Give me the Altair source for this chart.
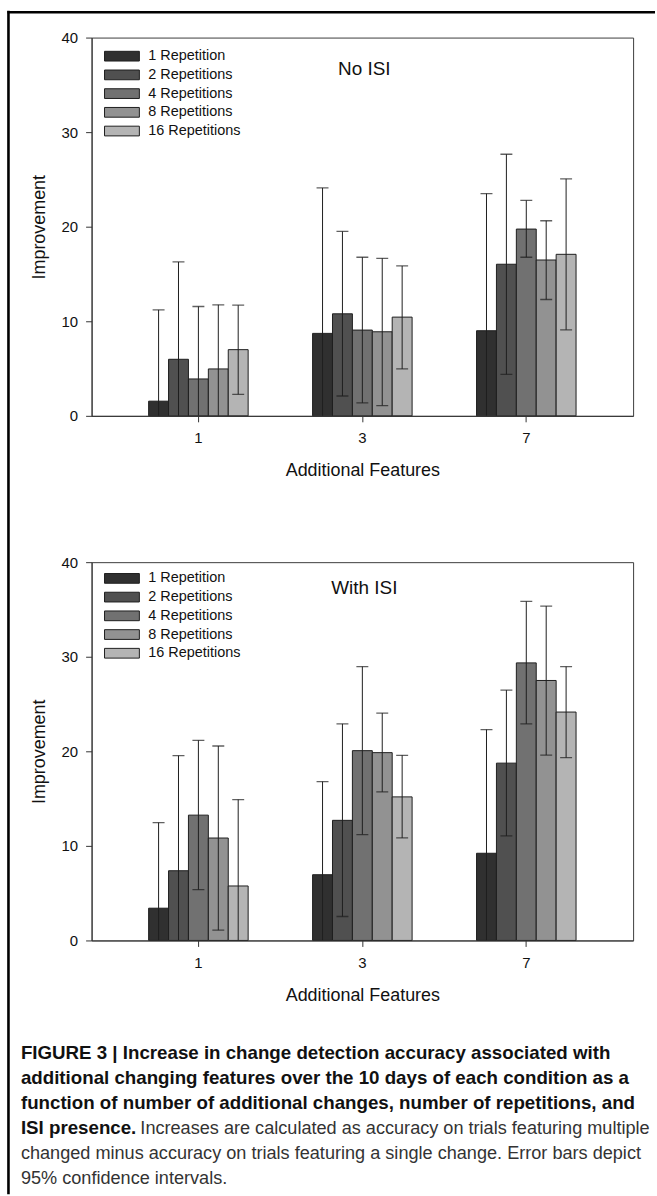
import altair as alt
import pandas as pd

FONT = "Liberation Sans"

features = ["1", "3", "7"]
reps = ["1 Repetition", "2 Repetitions", "4 Repetitions", "8 Repetitions", "16 Repetitions"]
rep_colors = ["#303030", "#505050", "#717171", "#929292", "#b4b4b4"]

# rows: additional features 1, 3, 7 ; columns: repetitions 1, 2, 4, 8, 16
noisi_mean = [[1.55, 5.98, 3.90, 4.96, 7.00],
              [8.72, 10.79, 9.07, 8.89, 10.44],
              [9.00, 16.03, 19.75, 16.48, 17.08]]
noisi_upper = [[11.2, 16.27, 11.56, 11.74, 11.70],
               [24.1, 19.50, 16.77, 16.66, 15.85],
               [23.5, 27.66, 22.78, 20.63, 25.06]]
noisi_lower = [[-8.1, -4.3, -3.8, -1.8, 2.28],
               [-6.7, 2.10, 1.37, 1.09, 4.96],
               [-5.5, 4.39, 16.77, 12.30, 9.10]]

isi_mean = [[3.41, 7.37, 13.25, 10.83, 5.76],
            [6.95, 12.70, 20.07, 19.86, 15.18],
            [9.22, 18.75, 29.35, 27.49, 24.15]]
isi_upper = [[12.46, 19.54, 21.16, 20.56, 14.90],
             [16.80, 22.90, 28.96, 24.04, 19.58],
             [22.30, 26.47, 35.85, 35.36, 28.96]]
isi_lower = [[-5.6, -4.8, 5.37, 1.09, -3.4],
             [-2.9, 2.53, 11.20, 15.71, 10.84],
             [-3.9, 11.05, 22.90, 19.60, 19.33]]

panel_titles = ["No ISI", "With ISI"]
caption_bold = ["FIGURE 3 | Increase in change detection accuracy associated with",
                "additional changing features over the 10 days of each condition as a",
                "function of number of additional changes, number of repetitions, and",
                "ISI presence."]
caption_regular = ["Increases are calculated as accuracy on trials featuring multiple",
                   "changed minus accuracy on trials featuring a single change. Error bars depict",
                   "95% confidence intervals."]

W, H = 544, 380
INK = "#1e1e1e"


def text_mark(s, x, y, size, weight="normal", color="#111", align="left"):
    return alt.Chart(pd.DataFrame({"t": [s]})).mark_text(
        font=FONT, fontSize=size, fontWeight=weight, color=color,
        align=align, baseline="alphabetic"
    ).encode(x=alt.value(x), y=alt.value(y), text="t:N")


def panel(mean, upper, lower, title, title_y, leg_center, back=None, extras=()):
    rows = []
    for i, f in enumerate(features):
        for j, r in enumerate(reps):
            rows.append(dict(feat=f, rep=r, mean=mean[i][j], hi=upper[i][j], lo=lower[i][j]))
    df = pd.DataFrame(rows)
    base = alt.Chart(df)

    x = alt.X("feat:N", sort=features, title="Additional Features",
              scale=alt.Scale(paddingInner=0.393, paddingOuter=0.348),
              axis=alt.Axis(labelAngle=0, labelFont=FONT, labelFontSize=15, labelColor="#111",
                            labelBaseline="alphabetic", labelPadding=21, tickSize=6,
                            tickColor="#333", domainColor="#333", grid=False, zindex=1,
                            titleFont=FONT, titleFontSize=18, titleFontWeight="normal",
                            titleColor="#111", titleBaseline="alphabetic", titleY=60, titleX=W / 2))
    xo = alt.XOffset("rep:N", sort=reps, scale=alt.Scale(paddingInner=0, paddingOuter=0))
    ys = alt.Scale(domain=[0, 40], nice=False)
    yaxis = alt.Axis(values=[0, 10, 20, 30, 40], labelFont=FONT, labelFontSize=15, labelColor="#111",
                     labelPadding=8, tickSize=6, tickColor="#333", domainColor="#333", grid=False,
                     zindex=1,
                     titleFont=FONT, titleFontSize=18, titleFontWeight="normal", titleColor="#111",
                     titleAngle=270, titleBaseline="alphabetic", titleAlign="center",
                     titleX=-47, titleY=H / 2)
    fill = alt.Fill("rep:N", scale=alt.Scale(domain=reps, range=rep_colors), legend=None)

    bars = base.mark_bar(stroke=INK, strokeWidth=1).encode(
        x=x, xOffset=xo, y=alt.Y("mean:Q", scale=ys, axis=yaxis, title="Improvement"), fill=fill)
    rules = base.mark_rule(color=INK, strokeWidth=1, clip=True).encode(
        x=x, xOffset=xo, y=alt.Y("lo:Q", scale=ys, title="Improvement"), y2="hi:Q")
    cap_hi = base.mark_tick(color=INK, size=12, thickness=1.3, clip=True).encode(
        x=x, xOffset=xo, y=alt.Y("hi:Q", scale=ys, title="Improvement"))
    cap_lo = base.mark_tick(color=INK, size=12, thickness=1.3, clip=True).encode(
        x=x, xOffset=xo, y=alt.Y("lo:Q", scale=ys, title="Improvement"))
    main = alt.layer(bars, rules, cap_hi, cap_lo)

    leg_df = pd.DataFrame({"rep": reps})
    a = leg_center - 9.4
    ly = alt.Y("rep:N", axis=None,
               scale=alt.Scale(domain=reps, range=[a, a + 94], paddingInner=0.48, paddingOuter=0.24))
    leg_rect = alt.Chart(leg_df).mark_rect(stroke=INK, strokeWidth=1).encode(
        x=alt.value(13), x2=alt.value(48), y=ly, fill=fill)
    leg_text = alt.Chart(leg_df).mark_text(
        align="left", baseline="middle", font=FONT, fontSize=14.5, color="#111"
    ).encode(x=alt.value(57), y=ly, text="rep:N")
    ttl = text_mark(title, 274, title_y, 19, align="center")
    over = alt.layer(leg_rect, leg_text, ttl, *extras)

    layers = ([back] if back is not None else []) + [main, over]
    return alt.layer(*layers).resolve_scale(y="independent").properties(width=W, height=H)


# panel 1 origin is at (91, 34) of the page; panel 2 origin at (91, 561)
empty = alt.Chart(pd.DataFrame({"t": [0]}))
back = empty.mark_rect(color="white", opacity=0).encode(
    x=alt.value(-91), x2=alt.value(566), y=alt.value(-34), y2=alt.value(1162))
frame_top = empty.mark_rule(color="black", strokeWidth=2.6).encode(
    x=alt.value(-84.5), x2=alt.value(566), y=alt.value(-25.5))
frame_left = empty.mark_rule(color="black", strokeWidth=2.6).encode(
    x=alt.value(-83.5), y=alt.value(-27), y2=alt.value(1162))

cap_x = -71
cap_y = [499, 524.2, 549.4, 574.6, 599.8, 625]
caption = [text_mark(s, cap_x, cap_y[i], 18.8, weight="bold", color="#111")
           for i, s in enumerate(caption_bold)]
caption.append(text_mark(caption_regular[0], 49, cap_y[3], 18.2, color="#333"))
caption.append(text_mark(caption_regular[1], cap_x, cap_y[4], 18.2, color="#333"))
caption.append(text_mark(caption_regular[2], cap_x, cap_y[5], 18.2, color="#333"))

p1 = panel(noisi_mean, noisi_upper, noisi_lower, panel_titles[0], 37.7, 18.7,
           back=back, extras=(frame_top, frame_left))
p2 = panel(isi_mean, isi_upper, isi_lower, panel_titles[1], 32, 16.3, extras=tuple(caption))

chart = alt.vconcat(p1, p2, spacing=147, bounds="flush").properties(
    padding=0, background="white"
).configure(font=FONT).configure_view(stroke="#3c3c3c", strokeWidth=1)

chart.save("out.html", embed_options={"renderer": "svg", "actions": False})
